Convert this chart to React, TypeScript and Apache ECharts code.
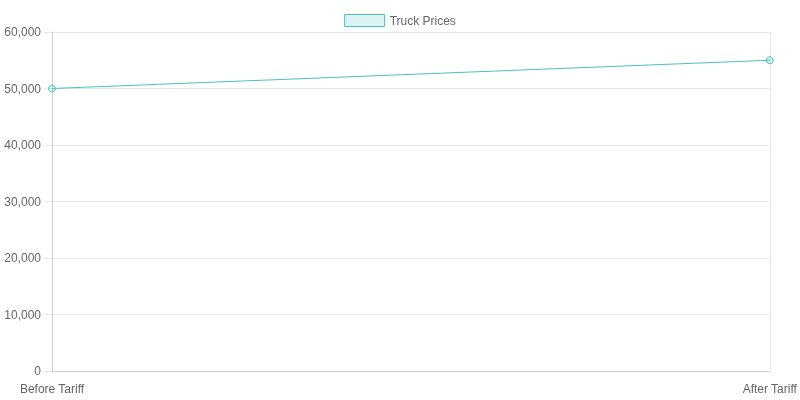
import React, { useEffect, useRef } from 'react';
import * as echarts from 'echarts';

const categories: string[] = ['Before Tariff', 'After Tariff'];
const truckPrices: number[] = [50000, 55000];
const seriesName = 'Truck Prices';

const App: React.FC = () => {
  const chartRef = useRef<HTMLDivElement>(null);

  useEffect(() => {
    if (!chartRef.current) return;
    const chart = echarts.init(chartRef.current, undefined, { renderer: 'svg' });

    const font = 'Liberation Sans, Helvetica, Arial, sans-serif';
    const gridColor = '#e6e6e6';

    const option: echarts.EChartsOption = {
      animation: false,
      textStyle: { fontFamily: font },
      legend: {
        top: 9,
        left: 'center',
        itemWidth: 40,
        itemHeight: 12,
        itemGap: 7,
        icon: 'rect',
        data: [seriesName],
        itemStyle: { borderWidth: 1 },
        textStyle: { color: '#666', fontSize: 12, fontFamily: font },
      },
      grid: { left: 52, right: 30, top: 32, bottom: 29, containLabel: false },
      xAxis: {
        type: 'category',
        data: categories,
        boundaryGap: false,
        axisLine: { show: true, lineStyle: { color: '#cfcfcf' } },
        axisTick: { show: false },
        splitLine: { show: true, lineStyle: { color: gridColor } },
        axisLabel: { color: '#666', fontSize: 12, margin: 12, fontFamily: font },
      },
      yAxis: {
        type: 'value',
        min: 0,
        max: 60000,
        interval: 10000,
        axisLine: { show: true, lineStyle: { color: '#cfcfcf' } },
        axisTick: { show: true, length: 8, lineStyle: { color: gridColor } },
        splitLine: { show: true, lineStyle: { color: gridColor } },
        axisLabel: {
          color: '#666',
          fontSize: 12,
          margin: 11,
          fontFamily: font,
          formatter: (v: number) => v.toLocaleString('en-US'),
        },
      },
      series: [
        {
          name: seriesName,
          type: 'line',
          data: truckPrices,
          symbol: 'circle',
          symbolSize: 7,
          showSymbol: true,
          lineStyle: { color: 'rgb(75,192,192)', width: 1 },
          itemStyle: {
            color: 'rgba(75,192,192,0.2)',
            borderColor: 'rgb(75,192,192)',
            borderWidth: 1,
          },
        },
      ],
    };

    chart.setOption(option);
    return () => {
      chart.dispose();
    };
  }, []);

  return (
    <div
      ref={chartRef}
      style={{ position: 'fixed', top: 0, left: 0, width: '800px', height: '400px' }}
    />
  );
};

export default App;
